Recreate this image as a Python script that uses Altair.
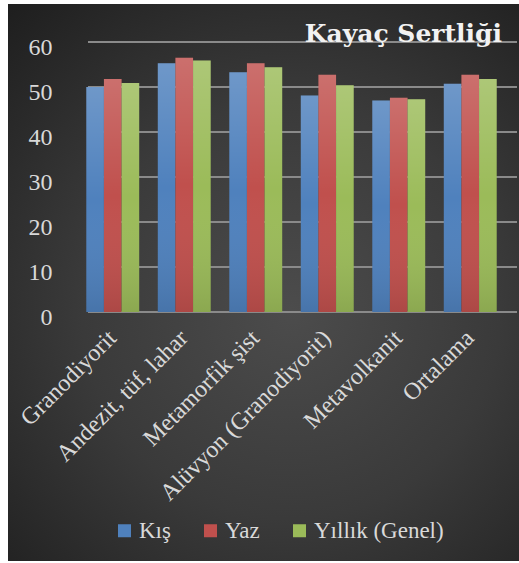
import altair as alt
import pandas as pd

categories = ["Granodiyorit", "Andezit, tüf, lahar", "Metamorfik şist",
              "Alüvyon (Granodiyorit)", "Metavolkanit", "Ortalama"]
series = ["Kış", "Yaz", "Yıllık (Genel)"]
kis = [50.0, 55.3, 53.3, 48.1, 47.0, 50.7]
yaz = [51.8, 56.5, 55.3, 52.7, 47.6, 52.7]
yillik = [50.9, 55.9, 54.4, 50.4, 47.3, 51.8]
y_ticks = [0, 10, 20, 30, 40, 50, 60]
colors = ["#4f81bd", "#c0504d", "#9bbb59"]
title_text = "Kayaç Sertliği"

rows = []
for s, vals in zip(series, [kis, yaz, yillik]):
    for c, v in zip(categories, vals):
        rows.append({"kategori": c, "seri": s, "deger": v})
df = pd.DataFrame(rows)

FONT = "Liberation Serif"
LBL = "#d9d9d9"

yscale = alt.Scale(domain=[0, 60], nice=False)
xscale = alt.Scale(paddingInner=0.25, paddingOuter=0.125)
yaxis = alt.Axis(values=y_ticks, grid=False, domain=False, ticks=False,
                 labelFont=FONT, labelFontSize=24, labelColor=LBL,
                 labelPadding=25, labelOffset=5, title=None, zindex=1)

bg = alt.Chart(pd.DataFrame({"a": [0]})).mark_rect(
    fill=alt.RadialGradient(
        gradient="radial",
        stops=[alt.GradientStop(color="#4c4c4c", offset=0),
               alt.GradientStop(color="#3a3a3a", offset=0.5),
               alt.GradientStop(color="#1e1e1e", offset=1)],
        x1=0.55, y1=0.55, r1=0, x2=0.55, y2=0.55, r2=0.75),
).encode(x=alt.value(-69), x2=alt.value(442), y=alt.value(-38), y2=alt.value(519))

grid = alt.Chart(pd.DataFrame({"v": y_ticks})).mark_rule(
    color="#8a8a8a", strokeWidth=2
).encode(
    y=alt.Y("v:Q", scale=yscale, axis=yaxis),
    x=alt.value(11), x2=alt.value(440),
)

enc = dict(
    x=alt.X("kategori:N", sort=categories, scale=xscale,
            axis=alt.Axis(title=None, domain=False, ticks=False, labelAngle=-45,
                          labelAlign="right", labelBaseline="middle",
                          labelFont=FONT, labelFontSize=24, labelColor=LBL,
                          labelPadding=22, labelLimit=400, zindex=1)),
    xOffset=alt.XOffset("seri:N", sort=series, scale=alt.Scale(paddingInner=0, paddingOuter=0.02)),
    y=alt.Y("deger:Q", scale=yscale, axis=yaxis),
)

bars = alt.Chart(df).mark_bar().encode(
    color=alt.Color("seri:N", sort=series,
                    scale=alt.Scale(domain=series, range=colors),
                    legend=alt.Legend(orient="none", legendX=36, legendY=477,
                                      direction="horizontal", title=None,
                                      symbolType="square", symbolSize=169,
                                      symbolStrokeWidth=0,
                                      labelFont=FONT, labelFontSize=23,
                                      labelColor=LBL, labelOffset=3,
                                      columnPadding=28, zindex=1)),
    **enc,
)

shade = alt.Chart(df).mark_bar(
    fill=alt.LinearGradient(
        gradient="linear",
        stops=[alt.GradientStop(color="rgba(255,255,255,0.18)", offset=0),
               alt.GradientStop(color="rgba(255,255,255,0.0)", offset=0.5),
               alt.GradientStop(color="rgba(0,0,0,0.10)", offset=1)],
        x1=0, x2=0, y1=0, y2=1),
).encode(**enc)

title = alt.Chart(pd.DataFrame({"t": [title_text]})).mark_text(
    font="DejaVu Serif", fontSize=25, fontWeight="bold", color="#f2f2f2",
    align="right", baseline="alphabetic",
).encode(text="t:N", x=alt.value(425), y=alt.value(0))

chart = alt.layer(bg, grid, bars, shade, title).properties(
    width=429, height=270,
    autosize=alt.AutoSizeParams(type="none"),
    padding={"left": 77, "top": 42, "right": 13, "bottom": 251},
    background="white",
).configure_view(strokeWidth=0).configure_axis(
    labelFont=FONT, labelColor=LBL
).configure_legend(
    labelFont=FONT, labelColor=LBL, labelFontSize=23
)

chart.save("out.html", embed_options={"renderer": "svg", "actions": False})
